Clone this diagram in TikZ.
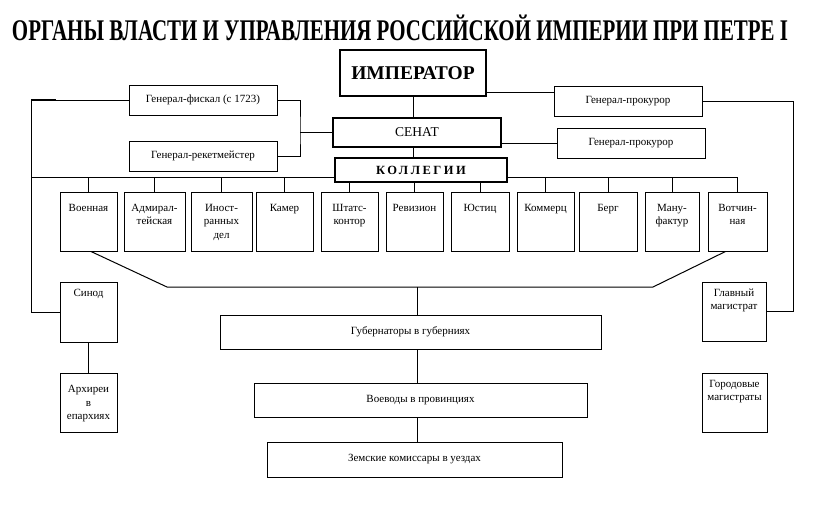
\documentclass[tikz,border=0pt]{standalone}
\usepackage{graphicx}
\usepackage{fontspec}
\setmainfont{Liberation Serif}
\newfontfamily\kollfont[LetterSpace=20]{Liberation Serif}
\usetikzlibrary{calc}
\newcommand{\tb}[4]{\parbox[c][#1][t]{#2}{\vspace*{#3}\centering #4\par}}

\begin{document}
\begin{tikzpicture}[x=1pt, y=-1pt, line width=1pt,
    box/.style={draw, inner sep=0pt, font=\fontsize{11}{13.5}\selectfont},
    wide/.style={box, minimum height=#1}]
  \useasboundingbox (0,0) rectangle (827,509);
  % title
  \node[anchor=base] (title) at (400,40)
    {\resizebox{776pt}{\height}{\fontsize{30}{30}\selectfont\bfseries ОРГАНЫ ВЛАСТИ И УПРАВЛЕНИЯ РОССИЙСКОЙ ИМПЕРИИ ПРИ ПЕТРЕ I}};
  % top of the state
  \node[draw, line width=2pt, minimum width=146pt, minimum height=46pt,
        font=\fontsize{19.5}{20}\selectfont\bfseries] (imp) at (413,73) {ИМПЕРАТОР};
  \node[draw, line width=1.8pt, minimum width=168pt, minimum height=29pt,
        font=\fontsize{13.5}{14}\selectfont] (senat) at (417,132.5) {СЕНАТ};
  \node[wide=30pt, minimum width=148pt] (fisc) at (203,100) {Генерал-фискал (с 1723)};
  \node[wide=30pt, minimum width=148pt] (reket) at (203,156) {Генерал-рекетмейстер};
  \node[wide=30pt, minimum width=148pt] (prok1) at (628,101) {Генерал-прокурор};
  \node[wide=30pt, minimum width=148pt] (prok2) at (631,143) {Генерал-прокурор};
  % colleges
  \coordinate (bus) at (0,177);
  \foreach \n/\x/\w/\t in {1/88.5/57/Военная, 2/154.5/61/{Адмирал-\\тейская},
      3/221.5/61/{Иност-\\ранных\\дел}, 4/284.5/57/Камер, 5/349.5/57/{Штатс-\\контор},
      6/414.5/57/Ревизион, 7/480/58/Юстиц, 8/545.5/57/Коммерц, 9/608/58/Берг,
      10/672/54/{Ману-\\фактур}, 11/737.5/59/{Вотчин-\\ная}} {
    \node[box] (c\n) at (\x,221.5) {\tb{59pt}{\w pt}{12pt}{\t}};
    \draw (c\n.north) -- (c\n.north |- bus);
  }
  \node[draw, line width=1.3pt, fill=white, minimum width=172pt, minimum height=24pt,
        font=\fontsize{12.5}{13}\kollfont\bfseries] (koll) at (421,170) {КОЛЛЕГИИ};
  % church and towns
  \node[box] (synod) at (88.5,312) {\tb{60pt}{57pt}{7pt}{Синод}};
  \node[box] (arch) at (88.5,402.5) {\tb{59pt}{57pt}{12.5pt}{Архиреи\\в\\епархиях}};
  \node[box] (glav) at (734,311.5) {\tb{59pt}{64pt}{6.5pt}{Главный\\магистрат}};
  \node[box] (gorod) at (734.5,402.5) {\tb{59pt}{65pt}{7pt}{Городовые\\магистраты}};
  % local government
  \node[wide=34pt, minimum width=381pt] (gub) at (410.5,332) {Губернаторы в губерниях};
  \node[wide=34pt, minimum width=333pt] (voev) at (420.5,400) {Воеводы в провинциях};
  \node[wide=35pt, minimum width=295pt] (zem) at (414.5,459.5) {Земские комиссары в уездах};
  % lines
  \coordinate (lft) at (31,100);
  \coordinate (rgt) at (793,101);
  \coordinate (jn) at (300,132.5);
  \coordinate (ie) at ([yshift=-19pt]imp.east);
  \draw (fisc.west) -- (lft) |- (synod.west);
  \draw[line width=2.4pt] (lft) -- ++(25,0);
  \draw (fisc.east) -| (jn) |- (reket.east);
  \draw (jn) -- (senat.west);
  \draw (imp.south) -- (imp.south |- senat.north);
  \draw (imp.south |- senat.south) -- (imp.south |- koll.north);
  \draw (ie) -- (ie -| prok1.west);
  \draw (prok2.west) -- (prok2.west -| senat.east);
  \draw (prok1.east) -- (rgt) |- (glav.east);
  \draw (lft |- bus) -- (koll.west |- bus);
  \draw (koll.east |- bus) -- (c11.north |- bus);
  \draw (synod.south) -- (arch.north);
  % funnel down to the provinces
  \coordinate (f1) at (167,287);
  \coordinate (f2) at (653,287);
  \coordinate (tr) at (417,287);
  \draw ([xshift=2.5pt]c1.south) -- (f1) -- (f2) -- ([xshift=-12pt]c11.south);
  \draw (tr) -- (tr |- gub.north);
  \draw (tr |- gub.south) -- (tr |- voev.north);
  \draw (tr |- voev.south) -- (tr |- zem.north);
\end{tikzpicture}
\end{document}
